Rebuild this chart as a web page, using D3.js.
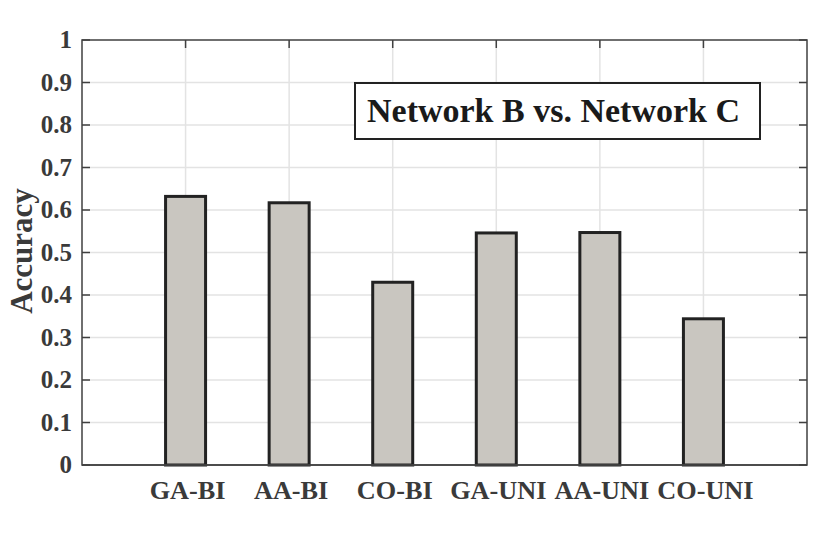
<!DOCTYPE html>
<html><head><meta charset="utf-8">
<script src="https://cdn.jsdelivr.net/npm/d3@7"></script>
<style>body{margin:0;background:#fff} text{font-family:"Liberation Serif","Times New Roman",serif;font-weight:bold}</style>
</head><body>
<svg id="c" width="830" height="535"></svg>
<script>
const categories = ["GA-BI","AA-BI","CO-BI","GA-UNI","AA-UNI","CO-UNI"];
const accuracy = [0.632, 0.617, 0.430, 0.546, 0.547, 0.344];
const yTicks = [0,0.1,0.2,0.3,0.4,0.5,0.6,0.7,0.8,0.9,1];
const yTickLabels = ["0","0.1","0.2","0.3","0.4","0.5","0.6","0.7","0.8","0.9","1"];
const legendText = "Network B vs. Network C";
const yLabel = "Accuracy";

const svg = d3.select("#c");
const m = {l:82, r:807, t:40, b:465};
const axisColor = "#404040";
const textColor = "#3a3a3a";

const x = d3.scaleLinear().domain([0, categories.length+1]).range([m.l, m.r]);
const y = d3.scaleLinear().domain([0,1]).range([m.b, m.t]);
const bw = 43;

// grid
const g = svg.append("g");
g.selectAll(".hg").data(yTicks.slice(1,-1)).enter().append("line")
  .attr("x1", m.l).attr("x2", m.r).attr("y1", d=>y(d)).attr("y2", d=>y(d))
  .attr("stroke", "#e3e3e3").attr("stroke-width", 1.5);
g.selectAll(".vg").data(categories).enter().append("line")
  .attr("x1", (d,i)=>x(i+1)).attr("x2", (d,i)=>x(i+1)).attr("y1", m.t).attr("y2", m.b)
  .attr("stroke", "#e3e3e3").attr("stroke-width", 1.5);

// bars
svg.selectAll(".bar").data(accuracy).enter().append("rect")
  .attr("x", (d,i)=>x(i+1)-bw/2+1.5).attr("width", bw-3)
  .attr("y", d=>y(d)).attr("height", d=>y(0)-y(d))
  .attr("fill", "#c9c6c0").attr("stroke", "#222").attr("stroke-width", 3);

// axes box
const ax = svg.append("g");
ax.append("rect").attr("x", m.l).attr("y", m.t).attr("width", m.r-m.l).attr("height", m.b-m.t)
  .attr("fill","none").attr("stroke", axisColor).attr("stroke-width", 1.5);
ax.selectAll(".yt").data(yTicks).enter().append("line")
  .attr("x1", m.l).attr("x2", m.l+8).attr("y1", d=>y(d)).attr("y2", d=>y(d))
  .attr("stroke", axisColor).attr("stroke-width", 1.5);
ax.selectAll(".yt2").data(yTicks).enter().append("line")
  .attr("x1", m.r).attr("x2", m.r-8).attr("y1", d=>y(d)).attr("y2", d=>y(d))
  .attr("stroke", axisColor).attr("stroke-width", 1.5);
ax.selectAll(".xt").data(categories).enter().append("line")
  .attr("x1", (d,i)=>x(i+1)).attr("x2", (d,i)=>x(i+1)).attr("y1", m.t).attr("y2", m.t+8)
  .attr("stroke", axisColor).attr("stroke-width", 1.5);
ax.append("line").attr("x1", m.l).attr("x2", m.r).attr("y1", m.b).attr("y2", m.b)
  .attr("stroke", axisColor).attr("stroke-width", 1.5);

// labels
svg.selectAll(".yl").data(yTicks).enter().append("text")
  .attr("x", m.l-10).attr("y", d=>y(d)).attr("dy", "0.33em")
  .attr("text-anchor","end")
  .attr("font-size", 25).attr("fill", textColor).text((d,i)=>yTickLabels[i]);
svg.selectAll(".xl").data(categories).enter().append("text")
  .attr("transform", (d,i)=>`translate(${x(i+1)+2},499) scale(1.05,1)`)
  .attr("text-anchor","middle")
  .attr("font-size", 25).attr("fill", textColor).text(d=>d);
svg.append("text").attr("transform", "translate(32,251) rotate(-90)")
  .attr("text-anchor","middle")
  .attr("font-size", 31).attr("fill", textColor).text(yLabel);

// legend box
svg.append("rect").attr("x", 355).attr("y", 83).attr("width", 405).attr("height", 56)
  .attr("fill","#fff").attr("stroke","#222").attr("stroke-width", 2);
svg.append("text").attr("x", 367).attr("y", 122)
  .attr("font-size", 34)
  .attr("fill","#1a1a1a").text(legendText);
</script>
</body></html>
